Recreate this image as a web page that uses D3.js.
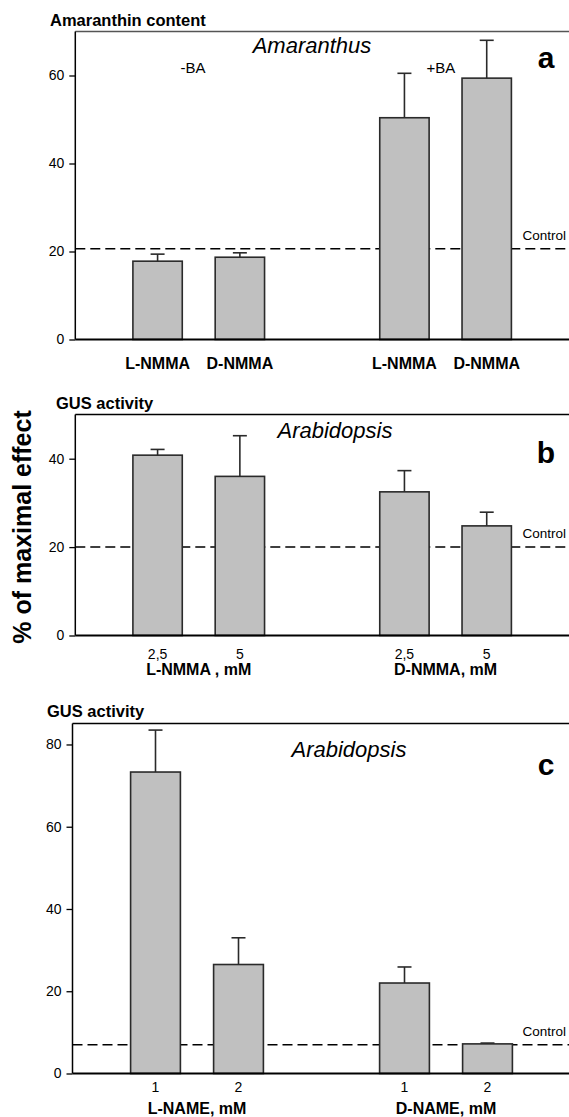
<!DOCTYPE html>
<html>
<head>
<meta charset="utf-8">
<script src="https://cdn.jsdelivr.net/npm/d3@7"></script>
<style>
  body { margin: 0; background: #fff; }
  svg { display: block; font-family: "Liberation Sans", Arial, sans-serif; }
  .bar { fill: #c0c0c0; stroke: #2a2a2a; stroke-width: 1.6; }
  .err { stroke: #2a2a2a; stroke-width: 1.6; fill: none; }
  .control { stroke: #000; stroke-width: 1.5; stroke-dasharray: 10 5; }
  .axis path, .axis line { stroke: #000; stroke-width: 1.3; }
  .axis text { font-size: 14px; fill: #000; }
</style>
</head>
<body>
<svg id="chart" width="569" height="1117"></svg>
<script>
// bar slots (in units of one bar step from the y axis)
const slots = [1, 2, 4, 5];

// panel a - Amaranthus, amaranthin content
const aLabels = ["L-NMMA", "D-NMMA", "L-NMMA", "D-NMMA"];
const aMeans = [17.8, 18.7, 50.4, 59.4];
const aErrors = [1.6, 1.0, 10.1, 8.6];
const aControl = 20.6;
const aTicks = [0, 20, 40, 60];

// panel b - Arabidopsis, GUS activity, NMMA
const bDoses = ["2,5", "5", "2,5", "5"];
const bGroups = ["L-NMMA , mM", "D-NMMA, mM"];
const bMeans = [40.8, 36.0, 32.5, 24.8];
const bErrors = [1.3, 9.2, 4.8, 3.1];
const bControl = 20;
const bTicks = [0, 20, 40];

// panel c - Arabidopsis, GUS activity, NAME
const cDoses = ["1", "2", "1", "2"];
const cGroups = ["L-NAME, mM", "D-NAME, mM"];
const cMeans = [73.3, 26.5, 22.0, 7.2];
const cErrors = [10.2, 6.5, 3.9, 0.2];
const cControl = 7.0;
const cTicks = [0, 20, 40, 60, 80];

const svg = d3.select("#chart");

class BarPanel {
  constructor(_config, _data) {
    this.config = _config;
    this.data = _data;
    this.initVis();
  }

  initVis() {
    let vis = this;
    const c = vis.config;

    vis.xScale = d3.scaleLinear().domain([0, 6]).range([c.left, c.right]);
    vis.yScale = d3.scaleLinear().domain([0, c.yMax]).range([c.bottom, c.top]);
    vis.g = svg.append("g");

    // top frame line
    vis.g.append("line")
      .attr("x1", c.left).attr("x2", 569)
      .attr("y1", c.top).attr("y2", c.top)
      .attr("stroke", c.frameColor).attr("stroke-width", 1.5);

    // control (dashed) line
    vis.g.append("line")
      .attr("class", "control")
      .attr("x1", c.left).attr("x2", 569)
      .attr("y1", vis.yScale(c.control)).attr("y2", vis.yScale(c.control));

    vis.g.append("text")
      .attr("x", 566).attr("y", vis.yScale(c.control) - 9)
      .attr("text-anchor", "end")
      .style("font-size", "13.5px")
      .text("Control");

    vis.renderVis();

    // y axis
    const yAxis = d3.axisLeft(vis.yScale)
      .tickValues(c.ticks)
      .tickSize(6)
      .tickPadding(5)
      .tickSizeOuter(0);
    vis.g.append("g")
      .attr("class", "axis")
      .attr("transform", `translate(${c.left},0)`)
      .call(yAxis)
      .call((g) => g.select(".domain").remove());

    vis.g.append("line")
      .attr("x1", c.left).attr("x2", c.left)
      .attr("y1", c.top).attr("y2", c.bottom)
      .attr("stroke", "#000").attr("stroke-width", 1.5);

    // x baseline
    vis.g.append("line")
      .attr("x1", c.left).attr("x2", 569)
      .attr("y1", c.bottom).attr("y2", c.bottom)
      .attr("stroke", "#000").attr("stroke-width", 2);

    // titles
    vis.g.append("text")
      .attr("x", c.titleX).attr("y", c.titleY)
      .style("font-size", "16.5px").style("font-weight", "bold")
      .text(c.title);

    vis.g.append("text")
      .attr("x", c.speciesX).attr("y", c.speciesY)
      .attr("text-anchor", "middle")
      .style("font-size", "22px").style("font-style", "italic")
      .text(c.species);

    vis.g.append("text")
      .attr("x", 546).attr("y", c.letterY)
      .attr("text-anchor", "middle")
      .style("font-size", "30px").style("font-weight", "bold")
      .text(c.letter);
  }

  renderVis() {
    let vis = this;
    const c = vis.config;
    const barW = (vis.xScale(1) - vis.xScale(0)) * 0.6;

    vis.g.selectAll(".bar")
      .data(vis.data)
      .join("rect")
      .attr("class", "bar")
      .attr("x", (d) => vis.xScale(d.slot) - barW / 2)
      .attr("width", barW)
      .attr("y", (d) => vis.yScale(d.mean))
      .attr("height", (d) => vis.yScale(0) - vis.yScale(d.mean));

    const errs = vis.g.selectAll(".errg")
      .data(vis.data)
      .join("g")
      .attr("class", "errg");

    errs.append("line")
      .attr("class", "err")
      .attr("x1", (d) => vis.xScale(d.slot))
      .attr("x2", (d) => vis.xScale(d.slot))
      .attr("y1", (d) => vis.yScale(d.mean))
      .attr("y2", (d) => vis.yScale(d.mean + d.err));

    errs.append("line")
      .attr("class", "err")
      .attr("x1", (d) => vis.xScale(d.slot) - 7)
      .attr("x2", (d) => vis.xScale(d.slot) + 7)
      .attr("y1", (d) => vis.yScale(d.mean + d.err))
      .attr("y2", (d) => vis.yScale(d.mean + d.err));

    // per-bar labels
    vis.g.selectAll(".barlabel")
      .data(vis.data)
      .join("text")
      .attr("class", "barlabel")
      .attr("x", (d) => vis.xScale(d.slot))
      .attr("y", c.bottom + c.labelDy)
      .attr("text-anchor", "middle")
      .style("font-size", c.labelBold ? "16px" : "14px")
      .style("font-weight", c.labelBold ? "bold" : "normal")
      .text((d) => d.label);

    // group labels
    if (c.groups) {
      vis.g.selectAll(".grouplabel")
        .data(c.groups)
        .join("text")
        .attr("class", "grouplabel")
        .attr("x", (d, i) => vis.xScale(i === 0 ? 1.5 : 4.5))
        .attr("y", c.bottom + c.groupDy)
        .attr("text-anchor", "middle")
        .style("font-size", "16px").style("font-weight", "bold")
        .text((d) => d);
    }
  }
}

const toData = (labels, means, errors) =>
  means.map((m, i) => ({ slot: slots[i], label: labels[i], mean: m, err: errors[i] }));

const panelA = new BarPanel({
  left: 75.3, right: 569, top: 31.5, bottom: 339.5, yMax: 70,
  ticks: aTicks, control: aControl, frameColor: "#555",
  title: "Amaranthin content", titleX: 50, titleY: 26,
  species: "Amaranthus", speciesX: 312, speciesY: 53,
  letter: "a", letterY: 68,
  labelBold: true, labelDy: 29
}, toData(aLabels, aMeans, aErrors));

svg.append("text").attr("x", 193).attr("y", 73).attr("text-anchor", "middle")
  .style("font-size", "15px").text("-BA");
svg.append("text").attr("x", 441).attr("y", 73).attr("text-anchor", "middle")
  .style("font-size", "15px").text("+BA");

const panelB = new BarPanel({
  left: 75.3, right: 569, top: 414.5, bottom: 635.5, yMax: 50,
  ticks: bTicks, control: bControl, frameColor: "#000",
  title: "GUS activity", titleX: 56, titleY: 409,
  species: "Arabidopsis", speciesX: 335, speciesY: 438,
  letter: "b", letterY: 463,
  labelBold: false, labelDy: 23, groups: bGroups, groupDy: 39
}, toData(bDoses, bMeans, bErrors));

const panelC = new BarPanel({
  left: 72.5, right: 570.5, top: 723.5, bottom: 1073.5, yMax: 85.1,
  ticks: cTicks, control: cControl, frameColor: "#000",
  title: "GUS activity", titleX: 47, titleY: 717,
  species: "Arabidopsis", speciesX: 349, speciesY: 757,
  letter: "c", letterY: 775,
  labelBold: false, labelDy: 18, groups: cGroups, groupDy: 40
}, toData(cDoses, cMeans, cErrors));

// shared y axis title
svg.append("text")
  .attr("transform", "translate(31,527) rotate(-90)")
  .attr("text-anchor", "middle")
  .style("font-size", "25px").style("font-weight", "bold")
  .text("% of maximal effect");
</script>
</body>
</html>
